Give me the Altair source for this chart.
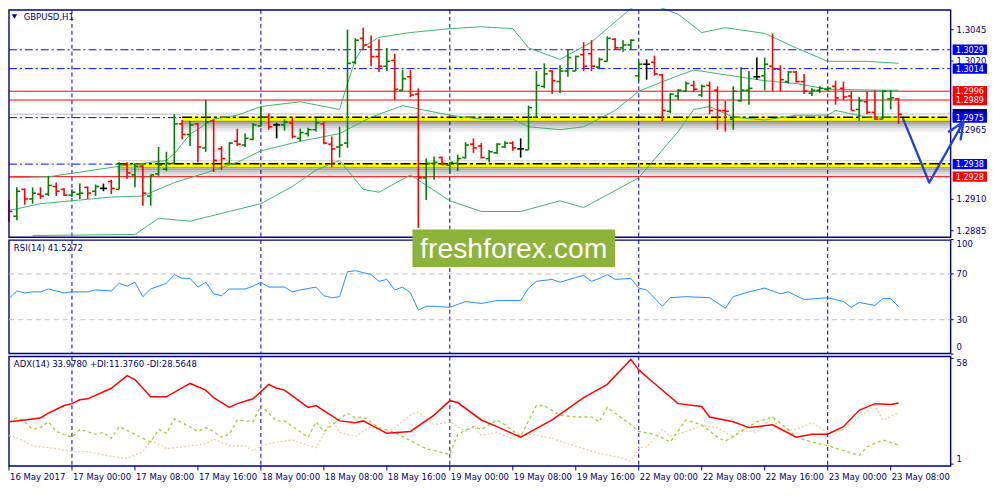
import altair as alt
import pandas as pd

# ---------------- data ----------------
symbol_title = "GBPUSD,H1"
rsi_title = "RSI(14) 41.5272"
adx_title = "ADX(14) 33.9780 +DI:11.3760 -DI:28.5648"
watermark = "freshforex.com"

opens = [1.29065, 1.28965, 1.29179, 1.29103, 1.29141, 1.29141, 1.29202, 1.29179, 1.29133, 1.29141,
         1.29195, 1.29164, 1.29187, 1.29241, 1.29179, 1.29378, 1.29294, 1.29363, 1.29126, 1.29302,
         1.29340, 1.29386, 1.29700, 1.29616, 1.29700, 1.29509, 1.29723, 1.29501, 1.29386, 1.29562,
         1.29532, 1.29577, 1.29685, 1.29754, 1.29692, 1.29692, 1.29708, 1.29585, 1.29623, 1.29654,
         1.29700, 1.29539, 1.29516, 1.29547, 1.30190, 1.30381, 1.30312, 1.30236, 1.30159, 1.30205,
         1.29968, 1.30075, 1.29937, 1.29271, 1.29386, 1.29432, 1.29371, 1.29386, 1.29432, 1.29539,
         1.29524, 1.29424, 1.29470, 1.29516, 1.29547, 1.29501, 1.29493, 1.29754, 1.29999, 1.30121,
         1.30037, 1.30121, 1.30121, 1.30251, 1.30259, 1.30152, 1.30198, 1.30374, 1.30305, 1.30328,
         1.30083, 1.30175, 1.30190, 1.30091, 1.29800, 1.29922, 1.29960, 1.30006, 1.29930, 1.30006,
         1.29968, 1.29807, 1.29738, 1.29884, 1.29968, 1.30075, 1.30083, 1.30159, 1.30136, 1.30037,
         1.30113, 1.30037, 1.29945, 1.29968, 1.29976, 1.29999, 1.29983, 1.29922, 1.29815, 1.29876,
         1.29792, 1.29738, 1.29899, 1.29899]
highs = [1.29095, 1.29195, 1.29187, 1.29195, 1.29195, 1.29287, 1.29233, 1.29187, 1.29179, 1.29225,
         1.29202, 1.29218, 1.29225, 1.29256, 1.29394, 1.29394, 1.29386, 1.29371, 1.29294, 1.29516,
         1.29478, 1.29777, 1.29731, 1.29723, 1.29708, 1.29891, 1.29738, 1.29524, 1.29555, 1.29662,
         1.29623, 1.29708, 1.29838, 1.29784, 1.29708, 1.29738, 1.29754, 1.29662, 1.29669, 1.29746,
         1.29715, 1.29600, 1.29677, 1.30450, 1.30381, 1.30466, 1.30404, 1.30374, 1.30305, 1.30259,
         1.30129, 1.30129, 1.29983, 1.29424, 1.29440, 1.29440, 1.29394, 1.29455, 1.29555, 1.29585,
         1.29547, 1.29493, 1.29547, 1.29562, 1.29562, 1.29585, 1.29845, 1.30121, 1.30182, 1.30129,
         1.30167, 1.30289, 1.30244, 1.30351, 1.30366, 1.30228, 1.30397, 1.30381, 1.30366, 1.30374,
         1.30198, 1.30213, 1.30244, 1.30098, 1.29945, 1.29976, 1.30037, 1.30044, 1.30014, 1.30037,
         1.29999, 1.29884, 1.29999, 1.30152, 1.30121, 1.30228, 1.30228, 1.30420, 1.30167, 1.30121,
         1.30121, 1.30098, 1.29983, 1.29999, 1.29999, 1.30044, 1.30037, 1.29960, 1.29914, 1.29960,
         1.29968, 1.29968, 1.29968, 1.29907]
lows = [1.28919, 1.28934, 1.29057, 1.29065, 1.29103, 1.29126, 1.29126, 1.29126, 1.29118, 1.29103,
        1.29103, 1.29126, 1.29164, 1.29141, 1.29179, 1.29264, 1.29195, 1.29049, 1.29049, 1.29287,
        1.29325, 1.29386, 1.29577, 1.29524, 1.29394, 1.29478, 1.29317, 1.29332, 1.29378, 1.29524,
        1.29516, 1.29570, 1.29677, 1.29654, 1.29585, 1.29646, 1.29585, 1.29562, 1.29600, 1.29639,
        1.29539, 1.29355, 1.29432, 1.29509, 1.30175, 1.30289, 1.30159, 1.30113, 1.30121, 1.29891,
        1.29968, 1.29914, 1.28873, 1.29095, 1.29256, 1.29371, 1.29310, 1.29325, 1.29424, 1.29470,
        1.29424, 1.29394, 1.29463, 1.29509, 1.29486, 1.29432, 1.29493, 1.29754, 1.29983, 1.29937,
        1.29945, 1.30075, 1.30121, 1.30121, 1.30121, 1.30136, 1.30198, 1.30289, 1.30274, 1.30289,
        1.30044, 1.30052, 1.30083, 1.29723, 1.29784, 1.29891, 1.29953, 1.29953, 1.29914, 1.29777,
        1.29654, 1.29639, 1.29654, 1.29876, 1.29853, 1.30052, 1.29968, 1.29960, 1.29960, 1.30022,
        1.30029, 1.29937, 1.29922, 1.29945, 1.29960, 1.29853, 1.29891, 1.29807, 1.29723, 1.29777,
        1.29731, 1.29738, 1.29815, 1.29700]
closes = [1.29003, 1.29164, 1.29103, 1.29149, 1.29126, 1.29210, 1.29164, 1.29133, 1.29156, 1.29149,
          1.29149, 1.29202, 1.29187, 1.29187, 1.29378, 1.29310, 1.29363, 1.29149, 1.29294, 1.29371,
          1.29386, 1.29700, 1.29616, 1.29692, 1.29516, 1.29715, 1.29409, 1.29424, 1.29547, 1.29539,
          1.29585, 1.29692, 1.29754, 1.29677, 1.29692, 1.29715, 1.29600, 1.29631, 1.29654, 1.29708,
          1.29547, 1.29501, 1.29532, 1.30182, 1.30366, 1.30328, 1.30236, 1.30159, 1.30198, 1.29976,
          1.30060, 1.29930, 1.29271, 1.29386, 1.29394, 1.29386, 1.29394, 1.29424, 1.29532, 1.29509,
          1.29432, 1.29478, 1.29539, 1.29547, 1.29509, 1.29501, 1.29830, 1.30006, 1.30098, 1.30044,
          1.30121, 1.30228, 1.30236, 1.30159, 1.30159, 1.30213, 1.30381, 1.30305, 1.30328, 1.30366,
          1.30175, 1.30175, 1.30098, 1.29807, 1.29937, 1.29968, 1.30022, 1.29976, 1.29999, 1.29807,
          1.29807, 1.29800, 1.29960, 1.29968, 1.29983, 1.30075, 1.30175, 1.30136, 1.30052, 1.30113,
          1.30037, 1.29960, 1.29968, 1.29983, 1.29983, 1.29907, 1.29914, 1.29807, 1.29884, 1.29792,
          1.29738, 1.29960, 1.29907, 1.29777]

# Bollinger bands (bar index, price)
upper_idx = [0, 5, 14, 20, 21, 23, 26, 29, 32, 37, 42, 43, 44, 45, 47, 51, 56, 60, 64, 66, 70, 74,
             79, 81, 83, 85, 88, 91, 96, 100, 104, 109, 113]
upper_val = [1.29271, 1.29279, 1.29363, 1.29409, 1.29463, 1.29618, 1.29738, 1.29769, 1.29838, 1.29876,
             1.29815, 1.30021, 1.30213, 1.30312, 1.30389, 1.30427, 1.30458, 1.30473, 1.30458, 1.30305,
             1.30213, 1.30351, 1.30619, 1.30672, 1.30619, 1.30573, 1.30427, 1.30466, 1.30420, 1.30305,
             1.30198, 1.30198, 1.30182]
mid_idx = [0, 4, 13, 17, 21, 25, 29, 32, 37, 42, 46, 50, 56, 60, 64, 66, 70, 73, 77, 80, 84, 87, 91,
           96, 100, 104, 111, 113]
mid_val = [1.29011, 1.29065, 1.29118, 1.29126, 1.29233, 1.29310, 1.29394, 1.29486, 1.29562, 1.29623,
           1.29754, 1.29845, 1.29769, 1.29738, 1.29738, 1.29677, 1.29654, 1.29677, 1.29807, 1.29960,
           1.30060, 1.30129, 1.30091, 1.30044, 1.30021, 1.29976, 1.29968, 1.29968]
low_idx = [3, 16, 19, 23, 28, 32, 36, 39, 41, 42, 45, 47, 51, 56, 60, 65, 70, 73, 80, 85, 87, 89, 92,
           96, 100, 104, 105, 109, 113]
low_val = [1.28812, 1.28820, 1.28949, 1.28926, 1.29003, 1.29065, 1.29202, 1.29332, 1.29386, 1.29409,
           1.29179, 1.29156, 1.29294, 1.29088, 1.29003, 1.29003, 1.29088, 1.29034, 1.29271, 1.29639,
           1.29815, 1.29838, 1.29754, 1.29731, 1.29769, 1.29769, 1.29807, 1.29754, 1.29754]

rsi_idx = [0, 1, 2, 3, 4, 5, 6, 7, 8, 10, 11, 13, 14, 15, 16, 17, 18, 20, 21, 22, 23, 24, 25, 26, 27,
           28, 30, 31, 32, 33, 35, 36, 37, 39, 40, 41, 42, 43, 44, 46, 47, 48, 49, 50, 51, 52, 53, 54,
           56, 58, 60, 62, 65, 66, 67, 69, 70, 72, 73, 74, 75, 76, 77, 79, 80, 81, 83, 84, 86, 89, 91,
           92, 94, 96, 98, 99, 101, 104, 106, 107, 108, 110, 111, 112, 113]
rsi_val = [48.4, 55.1, 53.4, 54.3, 54.3, 56.8, 55.1, 53.4, 54.3, 54.3, 56.0, 55.1, 61.8, 59.3, 62.7,
           50.1, 56.8, 61.8, 69.4, 66.1, 66.1, 58.5, 62.7, 52.6, 50.9, 56.8, 56.8, 59.3, 62.7, 58.5,
           58.5, 54.3, 56.0, 58.5, 50.9, 49.2, 50.1, 71.9, 72.8, 69.4, 63.5, 65.2, 56.0, 58.5, 53.4,
           38.3, 41.7, 41.7, 40.8, 45.9, 44.2, 46.7, 46.7, 57.6, 63.5, 65.2, 62.7, 66.9, 68.6, 63.5,
           66.1, 69.4, 65.2, 66.1, 57.6, 56.0, 41.7, 49.2, 50.1, 49.2, 40.0, 50.1, 54.3, 57.6, 52.6,
           54.3, 47.6, 49.2, 45.9, 40.8, 45.0, 42.5, 48.4, 48.4, 41.5]

adx_idx = [0, 2, 4, 5, 7, 8, 9, 10, 13, 15, 16, 18, 20, 23, 25, 26, 28, 29, 31, 33, 34, 35, 38, 39,
           42, 44, 45, 48, 51, 54, 56, 57, 60, 62, 65, 69, 73, 76, 79, 80, 82, 85, 88, 89, 92, 94, 95,
           97, 100, 102, 104, 106, 108, 110, 112, 113]
adx_val = [23.8, 24.8, 25.9, 28.5, 32.6, 33.6, 35.7, 36.2, 41.9, 48.7, 46.6, 37.3, 37.3, 44.5, 40.9,
           36.8, 31.6, 33.6, 36.2, 44.0, 41.9, 40.9, 31.6, 32.6, 24.3, 23.3, 24.3, 17.6, 18.6, 27.4,
           35.2, 34.2, 24.8, 21.2, 15.5, 24.8, 36.8, 44.0, 57.5, 51.8, 44.5, 33.6, 32.1, 26.4, 23.8,
           20.7, 21.2, 22.2, 15.5, 17.1, 17.1, 21.2, 30.0, 33.6, 33.1, 34.0]
pdi_idx = [0, 1, 2, 3, 4, 5, 6, 8, 9, 11, 12, 13, 14, 16, 18, 19, 20, 21, 22, 24, 25, 26, 27, 28, 29,
           31, 32, 34, 35, 38, 39, 40, 43, 44, 45, 47, 49, 53, 54, 56, 57, 59, 60, 62, 63, 65, 67, 68,
           70, 72, 74, 75, 76, 79, 80, 82, 84, 86, 88, 90, 91, 93, 95, 97, 99, 100, 102, 104, 106,
           108, 109, 111, 113]
pdi_val = [23.8, 25.9, 23.8, 19.7, 20.7, 23.8, 18.6, 15.5, 19.7, 17.1, 18.1, 15.0, 21.2, 17.1, 12.9,
           19.7, 17.6, 25.4, 23.3, 18.6, 20.7, 18.6, 15.5, 17.1, 24.8, 23.8, 32.6, 24.3, 24.3, 15.5,
           23.8, 18.6, 28.5, 25.9, 26.4, 20.7, 18.1, 9.3, 8.3, 6.2, 17.1, 21.2, 19.7, 24.8, 22.2,
           16.0, 32.6, 32.6, 27.4, 26.4, 26.4, 23.8, 31.6, 22.2, 18.6, 17.1, 12.9, 24.8, 22.2, 15.5,
           13.4, 18.6, 23.8, 26.4, 19.7, 15.5, 12.9, 10.9, 8.3, 5.7, 10.3, 14.0, 11.4]
mdi_idx = [0, 2, 3, 6, 8, 10, 13, 15, 17, 18, 19, 20, 23, 25, 26, 28, 30, 31, 32, 34, 36, 39, 41, 42,
           44, 46, 48, 49, 51, 52, 54, 56, 58, 59, 60, 62, 64, 66, 69, 71, 73, 75, 77, 79, 80, 81, 83,
           84, 86, 88, 90, 92, 93, 95, 97, 98, 100, 102, 104, 106, 108, 110, 111, 113]
mdi_val = [16.5, 13.4, 10.9, 9.3, 7.7, 7.7, 5.2, 4.1, 7.7, 13.4, 11.9, 9.3, 10.9, 11.9, 14.5, 10.9,
           10.9, 8.0, 10.9, 12.9, 14.0, 9.8, 24.8, 18.1, 16.0, 21.2, 18.1, 20.7, 27.4, 29.0, 22.2,
           23.8, 18.6, 21.2, 16.5, 18.1, 14.5, 17.1, 15.0, 11.9, 9.3, 6.7, 5.2, 2.6, 9.8, 10.3, 19.7,
           16.0, 18.6, 21.7, 20.7, 15.5, 19.7, 18.1, 26.4, 18.6, 19.7, 23.3, 18.1, 19.7, 26.4, 32.6,
           24.8, 28.6]

blue_levels = [1.3029, 1.3014, 1.2975, 1.2938]
red_levels = [1.2996, 1.2989, 1.2928]
zone_levels = [1.2975, 1.2938]
zone_start_idx = [22, 13.75]

tag_prices = [1.3029, 1.3014, 1.2996, 1.2989, 1.2975, 1.2938, 1.2928]
tag_colors = ["#0000ff", "#0000ff", "#ff0000", "#ff0000", "#0000ff", "#0000ff", "#ff0000"]

price_ticks = [1.3045, 1.3020, 1.2965, 1.2910, 1.2885]
rsi_mid_ticks = [70, 30]
rsi_levels = [70, 30]
adx_ticks = [58, 1]

time_idx = [0, 8, 16, 24, 32, 40, 48, 56, 64, 72, 80, 88, 96, 104, 112]
time_labels = ["16 May 2017", "17 May 00:00", "17 May 08:00", "17 May 16:00", "18 May 00:00",
               "18 May 08:00", "18 May 16:00", "19 May 00:00", "19 May 08:00", "19 May 16:00",
               "22 May 00:00", "22 May 08:00", "22 May 16:00", "23 May 00:00", "23 May 08:00"]
day_sep_idx = [8, 32, 56, 80, 104]

arrow_idx = [113.6, 116.9, 121.25]
arrow_price = [1.29738, 1.29233, 1.29715]
arrow_head_idx = [119.4, 121.25, 120.9]
arrow_head_price = [1.29639, 1.29715, 1.29577]

# ---------------- layout / style ----------------
W, H = 990, 478
FX0, FX1 = 1.0, 948.4
MAIN_T, MAIN_B = 0.5, 229.2
RSI_T, RSI_B = 232.1, 346.2
ADX_T, ADX_B = 349.1, 459.3
NAVY = "#000080"
TXT = "#00006a"
FONT = "DejaVu Sans Condensed, DejaVu Sans, sans-serif"
FS = 9.5

xs = alt.Scale(domain=[-0.125, 124.875], range=[0, W], nice=False, zero=False)
ys_main = alt.Scale(domain=[1.287979, 1.306108], range=[MAIN_B, 0], nice=False, zero=False)
ys_rsi = alt.Scale(domain=[0, 100], range=[346.7, 231.5], nice=False, zero=False)
ys_adx = alt.Scale(domain=[0, 59.6], range=[ADX_B, 348.1], nice=False, zero=False)


def X(f="i"):
    return alt.X(f"{f}:Q", scale=xs, axis=None)


def Y(f, sc):
    return alt.Y(f"{f}:Q", scale=sc, axis=None)


one = pd.DataFrame({"k": [0]})
n = len(opens)
bars = pd.DataFrame({"i": list(range(n)), "o": opens, "h": highs, "l": lows, "c": closes})
bars["d"] = ["up" if c > o else ("down" if c < o else "flat") for o, c in zip(opens, closes)]
bid = closes[-1]

L = []

# ---------- main panel ----------
L.append(alt.Chart(pd.DataFrame({"p": [bid]})).mark_rule(color="#cfcfcf", strokeWidth=1.5).encode(
    x=alt.value(FX0), x2=alt.value(FX1), y=Y("p", ys_main)))

zones = pd.DataFrame({"p": zone_levels, "i": zone_start_idx})
glow = [(-3.5, "#dddddd", 1.5), (3.5, "#8f8f8f", 2), (5.5, "#a8a8a8", 2), (7.5, "#c0c0c0", 2),
        (9.5, "#d5d5d5", 2), (11.5, "#e6e6e6", 2), (13.5, "#f2f2f2", 2)]
for off, col, sw in glow:
    L.append(alt.Chart(zones).mark_rule(color=col, strokeWidth=sw, yOffset=off).encode(
        x=X("i"), x2=alt.value(FX1), y=Y("p", ys_main)))

L.append(alt.Chart(pd.DataFrame({"p": blue_levels})).mark_rule(
    color="#0000ff", strokeWidth=1, strokeDash=[8, 3, 2, 3]).encode(
    x=alt.value(FX0), x2=alt.value(FX1), y=Y("p", ys_main)))
L.append(alt.Chart(pd.DataFrame({"p": red_levels})).mark_rule(color="#ff0000", strokeWidth=1).encode(
    x=alt.value(FX0), x2=alt.value(FX1), y=Y("p", ys_main)))
L.append(alt.Chart(zones).mark_rule(color="#ffff00", strokeWidth=4.5, yOffset=1).encode(
    x=X("i"), x2=alt.value(FX1), y=Y("p", ys_main)))
L.append(alt.Chart(zones).mark_rule(color="#000000", strokeWidth=1.4, strokeDash=[10, 3, 3, 3],
                                    yOffset=-0.3).encode(
    x=X("i"), x2=alt.value(FX1), y=Y("p", ys_main)))

seps = pd.DataFrame({"i": day_sep_idx})
for top, bot in [(MAIN_T, MAIN_B), (RSI_T, RSI_B), (ADX_T, ADX_B)]:
    L.append(alt.Chart(seps).mark_rule(color=NAVY, strokeWidth=1, strokeDash=[4, 3]).encode(
        x=X("i"), y=alt.value(top), y2=alt.value(bot)))

for bi, bv in [(upper_idx, upper_val), (mid_idx, mid_val), (low_idx, low_val)]:
    L.append(alt.Chart(pd.DataFrame({"i": bi, "p": bv})).mark_line(
        color="#3cb371", strokeWidth=1).encode(x=X("i"), y=Y("p", ys_main)))

bar_color = alt.Color("d:N", scale=alt.Scale(domain=["up", "down", "flat"],
                                             range=["#008000", "#ff0000", "#000000"]), legend=None)
L.append(alt.Chart(bars).mark_rule(strokeWidth=1.6).encode(
    x=X("i"), y=Y("l", ys_main), y2=alt.Y2("h"), color=bar_color))
L.append(alt.Chart(bars).mark_rule(strokeWidth=1.6, xOffset=-3.5, x2Offset=0).encode(
    x=X("i"), x2=alt.X2("i"), y=Y("o", ys_main), color=bar_color))
L.append(alt.Chart(bars).mark_rule(strokeWidth=1.6, xOffset=0, x2Offset=3.5).encode(
    x=X("i"), x2=alt.X2("i"), y=Y("c", ys_main), color=bar_color))

# frames
for top, bot in [(MAIN_T, MAIN_B), (RSI_T, RSI_B), (ADX_T, ADX_B)]:
    L.append(alt.Chart(one).mark_rect(fillOpacity=0, stroke=NAVY, strokeWidth=1.4).encode(
        x=alt.value(FX0), x2=alt.value(FX1), y=alt.value(top), y2=alt.value(bot)))

# price axis
pt = pd.DataFrame({"p": price_ticks, "t": [f"{v:.4f}" for v in price_ticks]})
L.append(alt.Chart(pt).mark_rule(color=NAVY, strokeWidth=1).encode(
    x=alt.value(FX1), x2=alt.value(FX1 + 3), y=Y("p", ys_main)))
L.append(alt.Chart(pt).mark_text(align="left", baseline="middle", font=FONT, fontSize=FS,
                                 color=TXT).encode(
    x=alt.value(954.4), y=Y("p", ys_main), text="t:N"))

# price tags (bid tag first, then each tag box followed by its text)
L.append(alt.Chart(pd.DataFrame({"p": [bid]})).mark_rule(color=NAVY, strokeWidth=10.6,
                                                         strokeCap="butt").encode(
    x=alt.value(950.4), x2=alt.value(985), y=Y("p", ys_main)))
for tp, tc in zip(tag_prices, tag_colors):
    tdf = pd.DataFrame({"p": [tp], "t": [f"{tp:.4f}"]})
    L.append(alt.Chart(tdf).mark_rule(strokeWidth=10.4, strokeCap="butt", color=tc).encode(
        x=alt.value(950.4), x2=alt.value(985), y=Y("p", ys_main)))
    L.append(alt.Chart(tdf).mark_text(align="center", baseline="middle", font=FONT, fontSize=9,
                                      color="#ffffff").encode(
        x=alt.value(967.7), y=Y("p", ys_main), text="t:N"))

# title
L.append(alt.Chart(one).mark_point(shape="triangle-down", filled=True, size=28, color=NAVY,
                                   opacity=1).encode(x=alt.value(6.5), y=alt.value(7)))
L.append(alt.Chart(pd.DataFrame({"t": [symbol_title]})).mark_text(
    align="left", baseline="middle", font=FONT, fontSize=FS, color=TXT).encode(
    x=alt.value(15.8), y=alt.value(7.8), text="t:N"))

# hand-drawn arrow
L.append(alt.Chart(pd.DataFrame({"i": arrow_idx, "p": arrow_price})).mark_line(
    color="#2442d0", strokeWidth=2.4, strokeCap="round", strokeJoin="round").encode(
    x=X("i"), y=Y("p", ys_main)))
head = pd.DataFrame({"i": arrow_head_idx, "p": arrow_head_price, "o": [0, 1, 2]})
L.append(alt.Chart(head).mark_line(color="#2442d0", strokeWidth=2.4, strokeCap="round",
                                   strokeJoin="round").encode(
    x=X("i"), y=Y("p", ys_main), order="o:Q"))

# ---------- RSI panel ----------
L.append(alt.Chart(pd.DataFrame({"v": rsi_levels})).mark_rule(
    color="#c0c0c0", strokeWidth=1, strokeDash=[5, 4]).encode(
    x=alt.value(FX0), x2=alt.value(FX1), y=Y("v", ys_rsi)))
L.append(alt.Chart(pd.DataFrame({"i": rsi_idx, "v": rsi_val})).mark_line(
    color="#1e90ff", strokeWidth=1).encode(x=X("i"), y=Y("v", ys_rsi)))
L.append(alt.Chart(pd.DataFrame({"v": [100, 70, 30, 0]})).mark_rule(color=NAVY).encode(
    x=alt.value(FX1), x2=alt.value(FX1 + 3), y=Y("v", ys_rsi)))
L.append(alt.Chart(pd.DataFrame({"v": [100], "t": ["100"]})).mark_text(
    align="left", baseline="top", font=FONT, fontSize=FS, color=TXT).encode(
    x=alt.value(954.4), y=Y("v", ys_rsi), text="t:N"))
L.append(alt.Chart(pd.DataFrame({"v": rsi_mid_ticks, "t": [str(v) for v in rsi_mid_ticks]})).mark_text(
    align="left", baseline="middle", font=FONT, fontSize=FS, color=TXT).encode(
    x=alt.value(954.4), y=Y("v", ys_rsi), text="t:N"))
L.append(alt.Chart(pd.DataFrame({"v": [0], "t": ["0"]})).mark_text(
    align="left", baseline="bottom", dy=-2, font=FONT, fontSize=FS, color=TXT).encode(
    x=alt.value(954.4), y=Y("v", ys_rsi), text="t:N"))
L.append(alt.Chart(pd.DataFrame({"t": [rsi_title]})).mark_text(
    align="left", baseline="middle", font=FONT, fontSize=FS, color=TXT).encode(
    x=alt.value(5.9), y=alt.value(239.8), text="t:N"))

# ---------- ADX panel ----------
L.append(alt.Chart(pd.DataFrame({"i": mdi_idx, "v": mdi_val})).mark_line(
    color="#f0cf9c", strokeWidth=1.3, strokeDash=[2, 2]).encode(x=X("i"), y=Y("v", ys_adx)))
L.append(alt.Chart(pd.DataFrame({"i": pdi_idx, "v": pdi_val})).mark_line(
    color="#9acd32", strokeWidth=1.3, strokeDash=[3, 3]).encode(x=X("i"), y=Y("v", ys_adx)))
L.append(alt.Chart(pd.DataFrame({"i": adx_idx, "v": adx_val})).mark_line(
    color="#ff0000", strokeWidth=1.5).encode(x=X("i"), y=Y("v", ys_adx)))
L.append(alt.Chart(pd.DataFrame({"v": adx_ticks})).mark_rule(color=NAVY).encode(
    x=alt.value(FX1), x2=alt.value(FX1 + 3), y=Y("v", ys_adx)))
L.append(alt.Chart(pd.DataFrame({"v": [adx_ticks[0]], "t": [str(adx_ticks[0])]})).mark_text(
    align="left", baseline="top", font=FONT, fontSize=FS, color=TXT).encode(
    x=alt.value(954.4), y=Y("v", ys_adx), text="t:N"))
L.append(alt.Chart(pd.DataFrame({"v": [adx_ticks[1]], "t": [str(adx_ticks[1])]})).mark_text(
    align="left", baseline="bottom", font=FONT, fontSize=FS, color=TXT).encode(
    x=alt.value(954.4), y=Y("v", ys_adx), text="t:N"))
L.append(alt.Chart(pd.DataFrame({"t": [adx_title]})).mark_text(
    align="left", baseline="middle", font=FONT, fontSize=FS, color=TXT).encode(
    x=alt.value(5.9), y=alt.value(356.8), text="t:N"))

# ---------- time axis ----------
tl = pd.DataFrame({"i": time_idx, "t": time_labels})
L.append(alt.Chart(tl).mark_rule(color=NAVY, strokeWidth=1).encode(
    x=X("i"), y=alt.value(ADX_B), y2=alt.value(ADX_B + 4.5)))
L.append(alt.Chart(tl).mark_text(align="left", baseline="middle", dx=1, font=FONT, fontSize=FS,
                                 color=TXT).encode(
    x=X("i"), y=alt.value(470), text="t:N"))

# ---------- watermark ----------
L.append(alt.Chart(one).mark_rect(fill="#8db33b").encode(
    x=alt.value(406.9), x2=alt.value(610.8), y=alt.value(221.4), y2=alt.value(259.2)))
L.append(alt.Chart(pd.DataFrame({"t": [watermark]})).mark_text(
    align="center", baseline="alphabetic", font="Liberation Sans, Arial, sans-serif",
    fontSize=28.5, color="#ffffff").encode(
    x=alt.value(508.8), y=alt.value(250.4), text="t:N"))

chart = alt.layer(*L).resolve_scale(y="independent").properties(
    width=W, height=H, padding=0, autosize=alt.AutoSizeParams(type="none"), background="#ffffff"
).configure_view(strokeWidth=0)

chart.save("out.html", embed_options={"renderer": "svg", "actions": False})
